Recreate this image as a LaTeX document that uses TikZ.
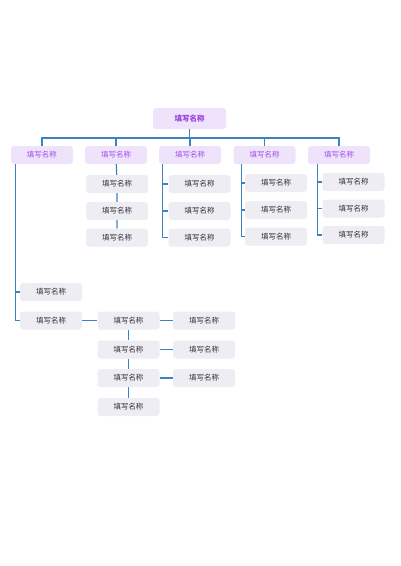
\documentclass[tikz,border=0pt]{standalone}
\usepackage{fontspec}
\usepackage{xcolor}
\usepackage{tikz}
\setmainfont{Noto Sans CJK SC}
\definecolor{topfill}{HTML}{EFE2FB}
\definecolor{toptext}{HTML}{9A3FE0}
\definecolor{subtext}{HTML}{A04FE8}
\definecolor{itemfill}{HTML}{EDEDF3}
\definecolor{itemtext}{HTML}{333333}
\definecolor{wire}{HTML}{3A82C4}

\begin{document}
\begin{tikzpicture}[x=1pt,y=-1pt,
  rootbox/.style={fill=topfill,rounded corners=3pt,minimum width=73pt,minimum height=21pt,inner sep=0pt,text=toptext,font=\fontsize{7.5}{8}\selectfont\bfseries},
  headbox/.style={fill=topfill,rounded corners=3pt,minimum width=62pt,minimum height=18pt,inner sep=0pt,text=subtext,font=\fontsize{7.5}{8}\selectfont},
  itembox/.style={fill=itemfill,rounded corners=3pt,minimum width=62pt,minimum height=18pt,inner sep=0pt,text=itemtext,font=\fontsize{7.5}{8}\selectfont},
  wireline/.style={draw=wire,line width=1.2pt}]
\useasboundingbox (0,0) rectangle (400,566);
\def\name{填写名称}
\def\ya{184}
\def\yb{211}
\def\yc{237.5}

% root and first level
\node[rootbox] (root) at (189.5,118.5) {\name};
\coordinate (bus) at (189.5,138);
\node[headbox] (h1) at (42,155) {\name};
\node[headbox] (h2) at (116,155) {\name};
\node[headbox] (h3) at (190,155) {\name};
\node[headbox] (h4) at (264.5,155) {\name};
\node[headbox] (h5) at (339,155) {\name};

% column 2
\node[itembox] (b1) at (117,\ya) {\name};
\node[itembox] (b2) at (117,\yb) {\name};
\node[itembox] (b3) at (117,\yc) {\name};
% column 3
\node[itembox] (c1) at (199.5,\ya) {\name};
\node[itembox] (c2) at (199.5,\yb) {\name};
\node[itembox] (c3) at (199.5,\yc) {\name};
% column 4
\node[itembox] (d1) at (276,183) {\name};
\node[itembox] (d2) at (276,210) {\name};
\node[itembox] (d3) at (276,236.5) {\name};
% column 5
\node[itembox] (e1) at (353.5,182) {\name};
\node[itembox] (e2) at (353.5,208.5) {\name};
\node[itembox] (e3) at (353.5,235) {\name};
% column 1
\node[itembox] (a1) at (51,292) {\name};
\node[itembox] (a2) at (51,320.5) {\name};
% lower grid
\node[itembox] (g1) at (128.5,320.5) {\name};
\node[itembox] (g2) at (128.5,349.5) {\name};
\node[itembox] (g3) at (128.5,378) {\name};
\node[itembox] (g4) at (128.5,407) {\name};
\node[itembox] (k1) at (204,320.5) {\name};
\node[itembox] (k2) at (204,349.5) {\name};
\node[itembox] (k3) at (204,378) {\name};

% trunk lines
\coordinate (t1) at ([xshift=5pt]h1.south west);
\coordinate (t3) at ([xshift=4pt]h3.south west);
\coordinate (t4) at ([xshift=8pt]h4.south west);
\coordinate (t5) at ([xshift=10pt]h5.south west);

\draw[wireline] (root) -- (bus);
\draw[wireline] (h1.north) |- (bus) -| (h5.north);
\draw[wireline] (h2.north) -- (h2.north |- bus);
\draw[wireline] (h3.north) -- (h3.north |- bus);
\draw[wireline] (h4.north) -- (h4.north |- bus);

\draw[wireline] (h2) -- (b1) (b1) -- (b2) (b2) -- (b3);
\draw[wireline] (t3) |- (c3.west) (t3 |- c1.west) -- (c1.west) (t3 |- c2.west) -- (c2.west);
\draw[wireline] (t4) |- (d3.west) (t4 |- d1.west) -- (d1.west) (t4 |- d2.west) -- (d2.west);
\draw[wireline] (t5) |- (e3.west) (t5 |- e1.west) -- (e1.west) (t5 |- e2.west) -- (e2.west);
\draw[wireline] (t1) |- (a2.west) (t1 |- a1.west) -- (a1.west);

\draw[wireline] (a2) -- (g1);
\draw[wireline] (g1) -- (g2) (g2) -- (g3) (g3) -- (g4);
\draw[wireline] (g1) -- (k1) (g2) -- (k2) (g3) -- (k3);
\end{tikzpicture}
\end{document}
